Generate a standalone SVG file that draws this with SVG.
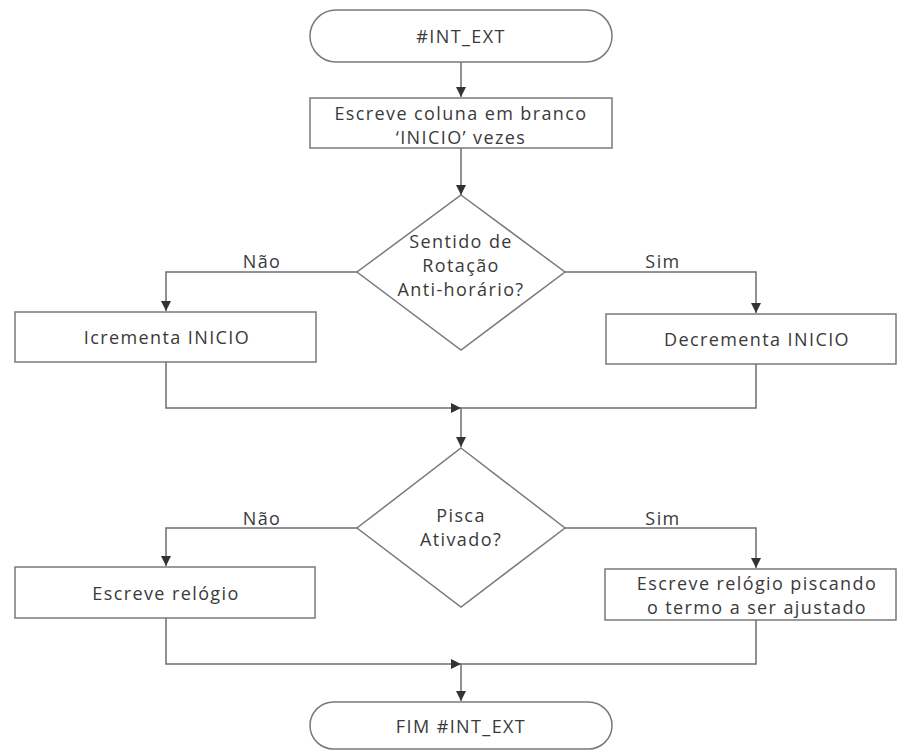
<svg xmlns="http://www.w3.org/2000/svg" width="897" height="751" viewBox="0 0 897 751">
<style>
.s{fill:#fff;stroke:#7a7a7a;stroke-width:1.5}
.c{fill:none;stroke:#6e6e6e;stroke-width:1.5}
text{font-family:"Open Sans","Liberation Sans",sans-serif;font-size:18px;letter-spacing:1.4px;fill:#3a3a3a;text-anchor:middle}
</style>
<defs>
<marker id="a" viewBox="0 0 10 10" refX="10" refY="5" markerWidth="10" markerHeight="10" markerUnits="userSpaceOnUse" orient="auto">
<path d="M0,0 L10,5 L0,10 Z" fill="#333"/>
</marker>
</defs>
<rect width="897" height="751" fill="#fff"/>
<g id="connectors">
<path class="c" d="M461,62 V97" marker-end="url(#a)"/>
<path class="c" d="M461,148 V195" marker-end="url(#a)"/>
<path class="c" d="M357,272 H166 V311" marker-end="url(#a)"/>
<path class="c" d="M565,272 H756 V313" marker-end="url(#a)"/>
<path class="c" d="M166,362 V408 H461" marker-end="url(#a)"/>
<path class="c" d="M756,364 V408 H461"/>
<path class="c" d="M461,408 V447" marker-end="url(#a)"/>
<path class="c" d="M357,528 H166 V566" marker-end="url(#a)"/>
<path class="c" d="M565,528 H756 V568" marker-end="url(#a)"/>
<path class="c" d="M166,618 V664 H461" marker-end="url(#a)"/>
<path class="c" d="M756,620 V664 H461"/>
<path class="c" d="M461,664 V701" marker-end="url(#a)"/>
<text x="262" y="268">Não</text>
<text x="663" y="268">Sim</text>
<text x="262" y="525">Não</text>
<text x="663" y="525">Sim</text>
</g>
<g id="start">
<rect class="s" x="310" y="10" width="302" height="52" rx="26" ry="26"/>
<text x="461" y="43">#INT_EXT</text>
</g>
<g id="escreve-coluna">
<rect class="s" x="310" y="98" width="302" height="50"/>
<text x="461" y="120">Escreve coluna em branco</text>
<text x="461" y="144">‘INICIO’ vezes</text>
</g>
<g id="decisao-sentido">
<polygon class="s" points="461,195 565,272 461,350 357,272"/>
<text x="461" y="248">Sentido de</text>
<text x="461" y="272">Rotação</text>
<text x="461" y="296">Anti-horário?</text>
</g>
<g id="incrementa">
<rect class="s" x="15" y="312" width="301" height="50"/>
<text x="167" y="344">Icrementa INICIO</text>
</g>
<g id="decrementa">
<rect class="s" x="606" y="314" width="290" height="50"/>
<text x="757" y="346">Decrementa INICIO</text>
</g>
<g id="decisao-pisca">
<polygon class="s" points="461,448 565,528 461,607 357,528"/>
<text x="461" y="522">Pisca</text>
<text x="461" y="546">Ativado?</text>
</g>
<g id="escreve-relogio">
<rect class="s" x="15" y="567" width="300" height="51"/>
<text x="166" y="600">Escreve relógio</text>
</g>
<g id="escreve-piscando">
<rect class="s" x="605" y="569" width="291" height="51"/>
<text x="757" y="590">Escreve relógio piscando</text>
<text x="757" y="614">o termo a ser ajustado</text>
</g>
<g id="fim">
<rect class="s" x="310" y="702" width="302" height="47" rx="23.5" ry="23.5"/>
<text x="461" y="733">FIM #INT_EXT</text>
</g>
</svg>
